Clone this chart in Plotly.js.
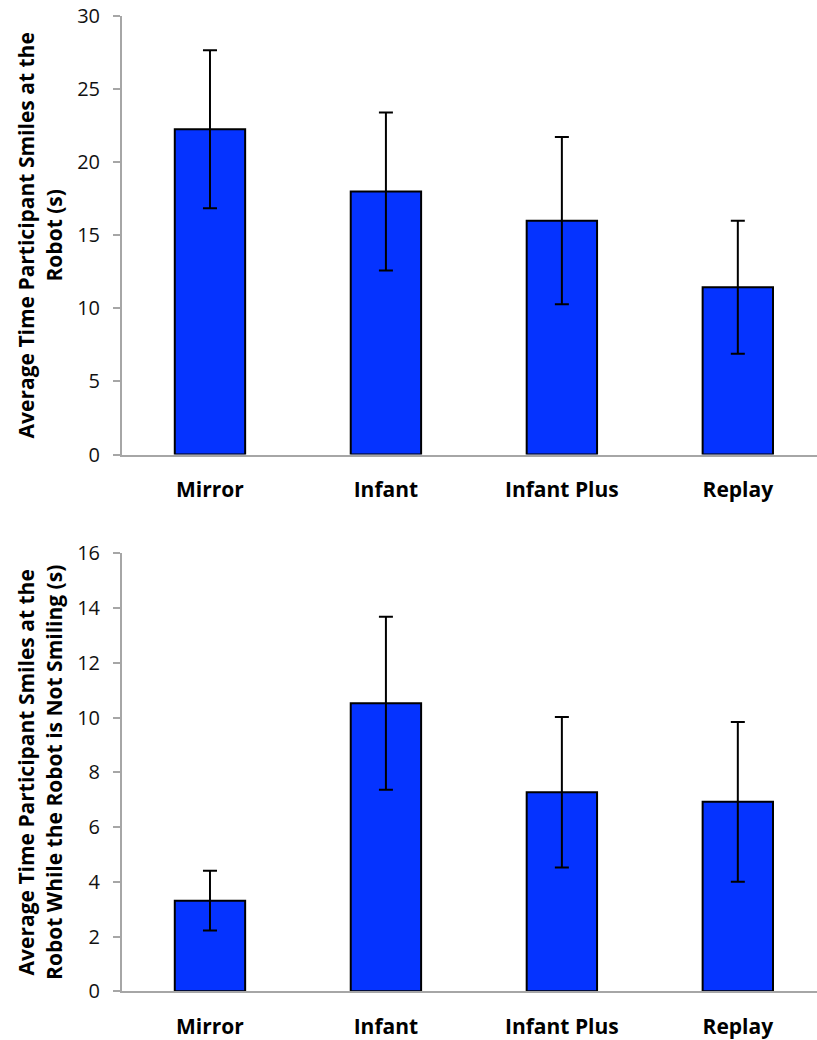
<!DOCTYPE html>
<html>
<head>
<meta charset="utf-8">
<script src="https://cdn.plot.ly/plotly-3.0.1.min.js"></script>
<style>
  html, body { margin: 0; padding: 0; background: #fff; }
  #chart { width: 817px; height: 1040px; }
</style>
</head>
<body>
<div id="chart"></div>
<script>
// Robot smile study: mean smile durations per condition, with error bars
const conditions = ["Mirror", "Infant", "Infant Plus", "Replay"];

// Panel 1: time participant smiles at the robot (s)
const smileAtRobot = [22.25, 18.0, 16.0, 11.45];
const smileAtRobotErr = [5.4, 5.4, 5.72, 4.55];

// Panel 2: time participant smiles while the robot is not smiling (s)
const smileRobotNotSmiling = [3.31, 10.52, 7.27, 6.92];
const smileRobotNotSmilingErr = [1.09, 3.16, 2.75, 2.92];

const yTitleTop = "Average Time Participant Smiles at the<br>Robot (s)";
const yTitleBottom = "Average Time Participant Smiles at the<br>Robot While the Robot is Not Smiling (s)";

const barColor = "#0533FF";
const axisGrey = "#a6a6a6";
const font = "'Open Sans', Lato, sans-serif";

function barTrace(values, errors, xa, ya) {
  return {
    type: "bar",
    x: conditions,
    y: values,
    xaxis: xa,
    yaxis: ya,
    width: 0.4,
    marker: { color: barColor, line: { color: "#000", width: 2 } },
    error_y: { type: "data", array: errors, visible: true, color: "#000", thickness: 2, width: 7 },
    hoverinfo: "x+y"
  };
}

const xAxisCommon = {
  type: "category",
  range: [-0.5, 3.45],
  showline: true,
  linecolor: axisGrey,
  linewidth: 2,
  ticks: "",
  showgrid: false,
  zeroline: false,
  ticklabelstandoff: 15,
  tickfont: { family: font, size: 21, color: "#000", weight: "bold" }
};

const yAxisCommon = {
  showline: true,
  linecolor: axisGrey,
  linewidth: 2,
  ticks: "outside",
  ticklen: 7,
  tickwidth: 2,
  tickcolor: axisGrey,
  showgrid: false,
  zeroline: false,
  ticklabelstandoff: 9,
  tickfont: { family: font, size: 20, color: "#111" },
  title: { font: { family: font, size: 21, color: "#000", weight: "bold" }, standoff: 9 }
};

const layout = {
  width: 817,
  height: 1040,
  margin: { l: 122, r: 0, t: 0, b: 0 },
  paper_bgcolor: "#fff",
  plot_bgcolor: "#fff",
  showlegend: false,
  bargap: 0.6,
  xaxis: Object.assign({}, xAxisCommon, { anchor: "y", domain: [0, 1] }),
  yaxis: Object.assign({}, yAxisCommon, {
    anchor: "x",
    domain: [0.5629, 0.9846],
    range: [0, 30],
    dtick: 5,
    title: Object.assign({}, yAxisCommon.title, { text: yTitleTop })
  }),
  xaxis2: Object.assign({}, xAxisCommon, { anchor: "y2", domain: [0, 1] }),
  yaxis2: Object.assign({}, yAxisCommon, {
    anchor: "x2",
    domain: [0.0468, 0.468],
    range: [0, 16],
    dtick: 2,
    title: Object.assign({}, yAxisCommon.title, { text: yTitleBottom })
  })
};

Plotly.newPlot("chart", [
  barTrace(smileAtRobot, smileAtRobotErr, "x", "y"),
  barTrace(smileRobotNotSmiling, smileRobotNotSmilingErr, "x2", "y2")
], layout, { displayModeBar: false, staticPlot: true });
</script>
</body>
</html>
